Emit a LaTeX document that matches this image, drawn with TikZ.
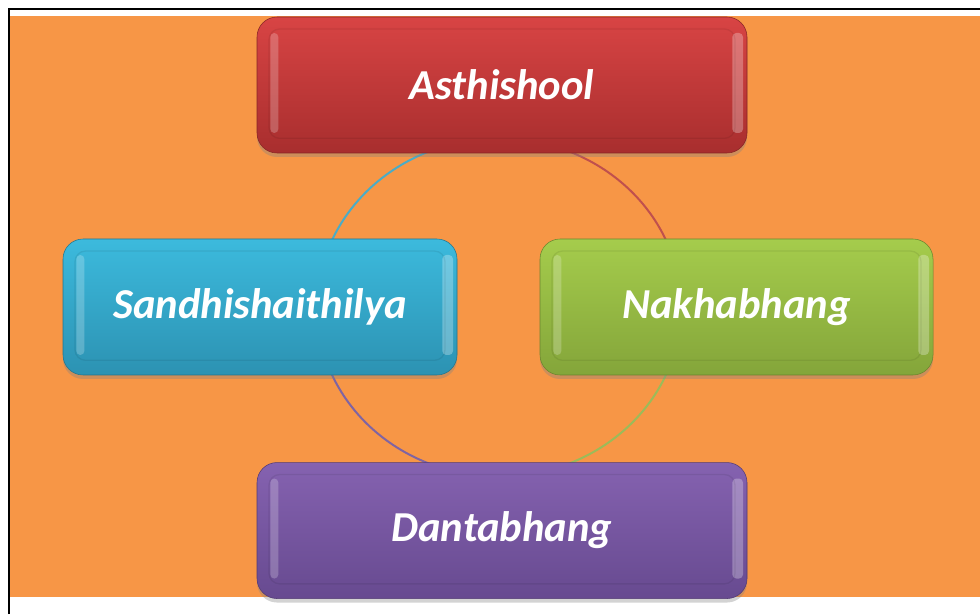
\documentclass[tikz,border=0pt]{standalone}
\usepackage{fontspec}
\setmainfont{Carlito}
\usepackage{tikz}
\usetikzlibrary{positioning, shadows, backgrounds}

\definecolor{bgorange}{HTML}{F79646}
\definecolor{redtop}{HTML}{D84444}
\definecolor{redbot}{HTML}{A82E2E}
\definecolor{redline}{HTML}{C0504D}
\definecolor{cyantop}{HTML}{3CBADD}
\definecolor{cyanbot}{HTML}{2C92B2}
\definecolor{cyanline}{HTML}{4BACC6}
\definecolor{greentop}{HTML}{A5CC4C}
\definecolor{greenbot}{HTML}{84A53A}
\definecolor{greenline}{HTML}{9BBB59}
\definecolor{purptop}{HTML}{8562B0}
\definecolor{purpbot}{HTML}{674A90}
\definecolor{purpline}{HTML}{8064A2}

\begin{document}
\begin{tikzpicture}[
    x=0.75pt, y=0.75pt,
    card/.style={rectangle, rounded corners=15pt, minimum width=367.5pt, minimum height=102pt,
        text=white, font=\fontsize{32}{38}\selectfont\bfseries\itshape,
        drop shadow={shadow xshift=0pt, shadow yshift=-3pt, opacity=0.35},
        path picture={
            \fill[white, opacity=0.22, rounded corners=3pt]
                ([xshift=10pt, yshift=15pt]path picture bounding box.south west) rectangle
                ([xshift=16pt, yshift=-12pt]path picture bounding box.north west);
            \fill[white, opacity=0.28, rounded corners=3pt]
                ([xshift=-11pt, yshift=15pt]path picture bounding box.south east) rectangle
                ([xshift=-3pt, yshift=-12pt]path picture bounding box.north east);
            \draw[black, opacity=0.07, line width=1pt, rounded corners=8pt]
                ([shift={(9pt,11pt)}]path picture bounding box.south west) rectangle
                ([shift={(-9pt,-9pt)}]path picture bounding box.north east);
        }},
    ring/.style={line width=1.5pt},
]

% Frame
\useasboundingbox (0,0) rectangle (980,614);
\draw[line width=1.5pt] (9,0) -- (9,605) -- (980,605);

% Nodes
\node[card, top color=redtop, bottom color=redbot, draw=redbot!80!black] (asth) at (502,529) {Asthishool};
\node[card, top color=purptop, bottom color=purpbot, draw=purpbot!80!black, below=231.75pt of asth] (danta) {Dantabhang};
\node[card, minimum width=295.5pt, top color=cyantop, bottom color=cyanbot, draw=cyanbot!80!black] (sandhi) at (260,307) {Sandhishaithilya};
\node[card, minimum width=294.75pt, top color=greentop, bottom color=greenbot, draw=greenbot!80!black] (nakha) at (736.5,307) {Nakhabhang};

% Cycle
\coordinate (hub) at (499,306.5);
\begin{scope}[on background layer]
\fill[bgorange] (10,17) rectangle (980,598);
\draw[ring, cyanline] (hub) ++(90:182 and 169) arc[start angle=90, end angle=180, x radius=182, y radius=169];
\draw[ring, redline] (hub) ++(0:182 and 169) arc[start angle=0, end angle=90, x radius=182, y radius=169];
\draw[ring, greenline] (hub) ++(270:182 and 169) arc[start angle=270, end angle=360, x radius=182, y radius=169];
\draw[ring, purpline] (hub) ++(180:182 and 169) arc[start angle=180, end angle=270, x radius=182, y radius=169];
\end{scope}

\end{tikzpicture}
\end{document}
